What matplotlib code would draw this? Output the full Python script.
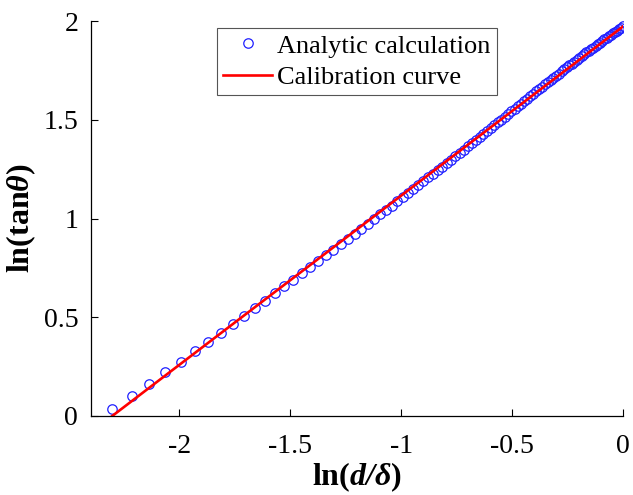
import matplotlib
matplotlib.use("Agg")
import matplotlib.pyplot as plt

plt.rcParams['font.family'] = ['Liberation Serif', 'DejaVu Serif']
plt.rcParams['mathtext.fontset'] = 'custom'
plt.rcParams['mathtext.rm'] = 'Liberation Serif'
plt.rcParams['mathtext.it'] = 'Liberation Serif:italic'
plt.rcParams['mathtext.bf'] = 'Liberation Serif:bold'
plt.rcParams['mathtext.bfit'] = 'Liberation Serif:italic:bold'
plt.rcParams['axes.unicode_minus'] = False

# ln(d/delta), analytic points
ln_ratio = [-2.303, -2.216, -2.137, -2.064, -1.995, -1.931, -1.871, -1.814, -1.760, -1.709,
            -1.661, -1.615, -1.570, -1.528, -1.487, -1.448, -1.411, -1.374, -1.339, -1.306,
            -1.273, -1.241, -1.211, -1.181, -1.152, -1.124, -1.097, -1.070, -1.044, -1.019,
            -0.994, -0.970, -0.947, -0.924, -0.901, -0.880, -0.858, -0.837, -0.816, -0.796,
            -0.777, -0.757, -0.738, -0.720, -0.701, -0.683, -0.666, -0.648, -0.631, -0.614,
            -0.598, -0.582, -0.566, -0.550, -0.534, -0.519, -0.504, -0.489, -0.475, -0.460,
            -0.446, -0.432, -0.419, -0.405, -0.392, -0.378, -0.365, -0.352, -0.340, -0.327,
            -0.315, -0.303, -0.290, -0.278, -0.267, -0.255, -0.243, -0.232, -0.221, -0.210,
            -0.199, -0.188, -0.177, -0.166, -0.156, -0.145, -0.135, -0.124, -0.114, -0.104,
            -0.094, -0.085, -0.075, -0.065, -0.056, -0.046, -0.037, -0.027, -0.018, -0.009,
            0.0]
# ln(tan theta), analytic points
ln_tan = [0.036, 0.102, 0.163, 0.221, 0.276, 0.327, 0.375, 0.422, 0.466, 0.508,
          0.548, 0.585, 0.622, 0.658, 0.691, 0.724, 0.755, 0.785, 0.815, 0.843,
          0.871, 0.898, 0.924, 0.949, 0.974, 0.998, 1.021, 1.044, 1.066, 1.088,
          1.109, 1.130, 1.150, 1.171, 1.190, 1.209, 1.227, 1.246, 1.264, 1.282,
          1.299, 1.317, 1.333, 1.350, 1.366, 1.382, 1.398, 1.413, 1.429, 1.444,
          1.458, 1.473, 1.488, 1.502, 1.516, 1.530, 1.544, 1.556, 1.570, 1.583,
          1.595, 1.608, 1.621, 1.633, 1.645, 1.657, 1.669, 1.680, 1.692, 1.702,
          1.714, 1.725, 1.735, 1.746, 1.756, 1.766, 1.776, 1.786, 1.796, 1.805,
          1.815, 1.824, 1.832, 1.842, 1.851, 1.859, 1.867, 1.875, 1.884, 1.892,
          1.900, 1.908, 1.916, 1.923, 1.930, 1.939, 1.946, 1.953, 1.960, 1.967,
          1.975]

# calibration line end points
calib_x = [-2.303, 0.0]
calib_y = [0.0, 1.975]

fig = plt.figure(figsize=(6.33, 4.95), dpi=100)
ax = fig.add_axes([0.1433, 0.1596, 0.8414, 0.7974])

ax.plot(ln_ratio, ln_tan, 'o', mfc='none', mec='#2020ff', ms=6.8, mew=0.9,
        label='Analytic calculation')
ax.plot(calib_x, calib_y, '-', color='red', lw=1.9, label='Calibration curve')

ax.set_xlim(-2.4, 0)
ax.set_ylim(0, 2)
ax.set_xticks([-2, -1.5, -1, -0.5, 0])
ax.set_xticklabels(['-2', '-1.5', '-1', '-0.5', '0'])
ax.set_yticks([0, 0.5, 1, 1.5, 2])
ax.set_yticklabels(['0', '0.5', '1', '1.5', '2'])
ax.tick_params(direction='in', length=5, width=0.8, labelsize=20)
ax.tick_params(axis='x', pad=13)
ax.tick_params(axis='y', pad=9)
ax.spines['top'].set_visible(False)
ax.spines['right'].set_visible(False)
for s in ['left', 'bottom']:
    ax.spines[s].set_linewidth(0.9)

ax.set_xlabel(r'$\mathbf{ln(}\mathbfit{d/\delta}\mathbf{)}$', fontsize=23, labelpad=1)
ax.set_ylabel(r'$\mathbf{ln(tan}\mathbfit{\theta}\mathbf{)}$', fontsize=23, labelpad=4)

leg = ax.legend(loc='upper left', bbox_to_anchor=(0.238, 0.982), borderaxespad=0,
                fontsize=19, handlelength=1.85, handletextpad=0.2, labelspacing=0.3,
                borderpad=0.22, fancybox=False, framealpha=1, edgecolor='#555555')
leg.get_frame().set_linewidth(0.8)

fig.savefig('out.png', dpi=100)
